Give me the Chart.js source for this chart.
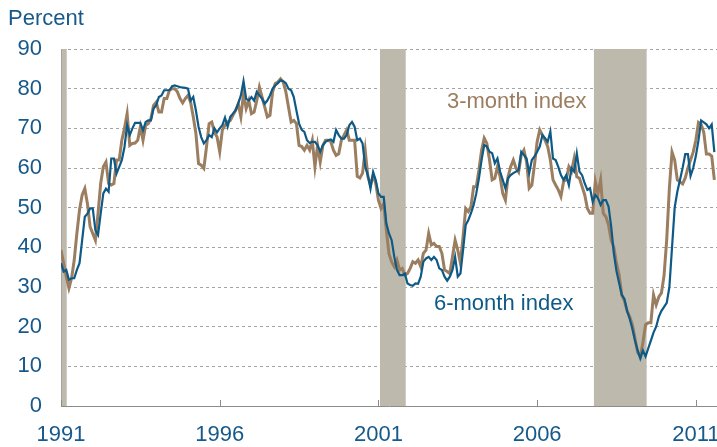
<!DOCTYPE html>
<html>
<head>
<meta charset="utf-8">
<script src="https://cdn.jsdelivr.net/npm/chart.js@4/dist/chart.umd.min.js"></script>
<style>
  html, body { margin: 0; padding: 0; background: #fff; }
  #wrap { position: relative; width: 717px; height: 447px; }
</style>
</head>
<body>
<div id="wrap"><canvas id="chart" width="717" height="447"></canvas></div>
<script>
// Monthly series, starting January 1991
var startYear = 1991;
var tickYears = [1991, 1996, 2001, 2006, 2011];

var sixMonth = [
  36, 33.9, 34.3, 31.8, 32.2, 32.2, 34.3, 36, 41.8, 47.7, 48.5, 49.8,
  49.8, 44.3, 43.1, 48.5, 53.6, 54.8, 54, 62.4, 62.4, 58.6, 60.3, 62,
  65.3, 70.8, 68.3, 70, 71.4, 71.4, 71.4, 69.5, 71.6, 72, 72, 75,
  75.8, 77.9, 78.3, 79.6, 79.6, 79.6, 80.6, 80.8, 80.6, 80.4, 80.3, 80.2,
  80, 77, 77.9, 74.5, 70.4, 67.8, 66.2, 67, 68.3, 67.8, 70, 69,
  70, 70.8, 72.7, 70.4, 72.9, 73.7, 74.5, 76.2, 78.3, 81.9, 77.5, 77,
  77.9, 77, 79.2, 78.3, 77.5, 76.2, 77, 78.3, 80, 80.8, 81.4, 82.1,
  81.9, 81.4, 80, 79.6, 77.9, 74.5, 71.2, 69.6, 69.1, 67, 66.3, 66.6,
  66.6, 65.7, 64.1, 65.7, 66.6, 67, 67.2, 66.6, 69.6, 68.3, 67.4, 67.4,
  68.3, 70.8, 71.6, 70.4, 67, 67.4, 66.2, 60.3, 58.2, 54.8, 59, 56.9,
  53.6, 52.7, 52.7, 46, 43.5, 41.8, 37.6, 34.3, 33, 33, 33.4, 30.9,
  30.5, 30.3, 30.9, 30.8, 32.6, 36.4, 37.2, 37.6, 36.8, 37.6, 36.8, 34.7,
  34.3, 32.6, 31.6, 32.6, 34.3, 37.6, 32.6, 33.4, 39.3, 45.6, 46.9, 48.6,
  50.7, 53.6, 57.4, 62, 65.8, 65.4, 64.1, 63.7, 61.2, 62.4, 59.1, 57,
  54.9, 57.4, 58.2, 58.7, 59.1, 59.5, 64.1, 63.3, 62.4, 58.7, 62, 62.9,
  64.1, 65.4, 68.3, 67.5, 66.6, 69.2, 62.4, 62, 60.3, 58.2, 57, 58.2,
  55.7, 60, 59.1, 63.7, 59.1, 58.2, 56.1, 54.5, 54.9, 51.5, 53.2, 52.4,
  50.7, 51.9, 51.9, 50.3, 45.2, 38.5, 34, 31, 28, 27, 24, 22,
  19.5, 16.5, 14, 12, 14, 12.5, 14.5, 16.5, 18.5, 20, 22.5, 24,
  25, 26, 30, 40, 50, 54, 57, 60, 63.5, 63.5, 58, 60,
  63, 67, 72, 71.5, 71, 70, 71, 64
];

var threeMonth = [
  39.3, 36, 32.6, 29.7, 32.2, 36.8, 43.5, 49.4, 53.2, 54.8, 51, 45.2,
  43.5, 41.8, 48.5, 56.1, 60.3, 61.5, 56.1, 55.7, 56.1, 62, 62, 67,
  70, 73.7, 65.7, 66.2, 66.3, 67, 70.4, 67, 70.8, 71.2, 72.5, 75.8,
  76.6, 74.1, 74.1, 77.5, 77.5, 79.6, 80, 80, 79.2, 77.5, 76.4, 77.5,
  78.3, 76.6, 72.9, 68.7, 61.1, 60.7, 59.9, 65.3, 71.2, 71.6, 69, 67.8,
  64.1, 69.6, 70.8, 71.6, 72, 73.3, 74.5, 76.2, 72.9, 78.7, 75, 77,
  73.7, 74.1, 77, 80.4, 77.9, 75.4, 72.9, 73.3, 79.2, 81.3, 81.7, 82.5,
  81.7, 79.2, 75.4, 71.6, 72, 71.2, 65.7, 65.4, 64.5, 65.7, 64.5, 67,
  60.3, 65.7, 61.5, 65.7, 67, 67, 66.6, 64.5, 63.2, 63.6, 67, 68.3,
  69.6, 67, 67, 67, 57.9, 57.5, 58.7, 64.5, 57.9, 55.7, 58.2, 56.1,
  51.9, 49.8, 51, 44.3, 38.4, 36.3, 35.1, 36.8, 34.3, 34.7, 33, 33.4,
  34.7, 36.4, 36, 36.8, 35.1, 38.5, 39.3, 43.5, 40.6, 41, 40.2, 40.2,
  38.5, 34.3, 33.9, 33.4, 37.6, 41.8, 39.3, 36, 42.7, 49.8, 49, 50.3,
  55.3, 55.3, 59.5, 64.5, 67.5, 66.2, 62, 57, 57.4, 60.3, 57.8, 53.6,
  51.9, 57.8, 60.3, 62, 60, 59, 63.3, 64.5, 61.6, 54.9, 55.7, 60.8,
  66.6, 69.6, 68.3, 67, 65.4, 62, 57, 55.7, 54.5, 52.8, 56.6, 57,
  60.3, 59.1, 62.4, 57.8, 57.4, 55.3, 53.2, 49.8, 48.6, 48.6, 56.6, 53.6,
  57, 48.6, 47.7, 45.6, 41.8, 40, 36, 33, 28, 26.5, 24, 22.5,
  20.5, 17, 13.5, 12.5, 16, 20.5, 21, 21, 28, 25.5, 27.5, 28.5,
  33, 42, 55, 64, 62, 57, 56.5, 56, 57.5, 60, 62, 64,
  67, 71.5, 71, 69, 63.5, 63.5, 63, 57
];

// Recession periods, in decimal years
var recessions = [
  [1991.0, 1991.18],
  [2001.05, 2001.86],
  [2007.79, 2009.45]
];

// Series labels placed in data coordinates (year, percent at text baseline)
var seriesLabels = [
  { text: '3-month index', x: 2003.16, y: 75.1, color: '#9b7d5f' },
  { text: '6-month index', x: 2002.75, y: 24.2, color: '#0e5a87' }
];

function toPoints(arr) {
  return arr.map(function (v, i) { return { x: startYear + i / 12, y: v }; });
}

var font = '"Liberation Sans", Arial, sans-serif';
var textBlue = '#17598a';

var extras = {
  id: 'extras',
  beforeDatasetsDraw: function (chart) {
    var ctx = chart.ctx, a = chart.chartArea, xs = chart.scales.x;
    ctx.save();
    ctx.fillStyle = '#bdb9ac';
    recessions.forEach(function (r) {
      var x0 = Math.max(xs.getPixelForValue(r[0]), a.left + 0.5);
      var x1 = xs.getPixelForValue(r[1]);
      ctx.fillRect(x0, a.top, x1 - x0, a.bottom - a.top);
    });
    // small inward tick marks on the x axis
    ctx.strokeStyle = '#8c8c8c';
    ctx.lineWidth = 1;
    tickYears.forEach(function (y) {
      var px = Math.round(xs.getPixelForValue(y)) + 0.5;
      ctx.beginPath();
      ctx.moveTo(px, a.bottom);
      ctx.lineTo(px, a.bottom - 6);
      ctx.stroke();
    });
    ctx.restore();
  },
  afterDraw: function (chart) {
    var ctx = chart.ctx, xs = chart.scales.x, ys = chart.scales.y;
    ctx.save();
    ctx.font = '22px ' + font;
    ctx.textBaseline = 'alphabetic';
    ctx.textAlign = 'left';
    seriesLabels.forEach(function (l) {
      ctx.fillStyle = l.color;
      ctx.fillText(l.text, xs.getPixelForValue(l.x), ys.getPixelForValue(l.y));
    });
    ctx.fillStyle = textBlue;
    ctx.fillText('Percent', 8, 25);
    ctx.restore();
  }
};

var ctx = document.getElementById('chart').getContext('2d');
var chart = new Chart(ctx, {
  type: 'line',
  data: {
    datasets: [
      {
        label: '6-month index',
        data: toPoints(sixMonth),
        borderColor: '#0e5a87',
        borderWidth: 2.2,
        pointRadius: 0,
        tension: 0,
        fill: false,
        order: 0
      },
      {
        label: '3-month index',
        data: toPoints(threeMonth),
        borderColor: '#9b7d5f',
        borderWidth: 3,
        pointRadius: 0,
        tension: 0,
        fill: false,
        order: 1
      }
    ]
  },
  options: {
    responsive: false,
    animation: false,
    events: [],
    layout: { padding: { top: 49, right: 0, left: 0, bottom: 0 } },
    plugins: { legend: { display: false }, tooltip: { enabled: false } },
    scales: {
      x: {
        type: 'linear',
        min: startYear,
        max: startYear + 248 / 12,
        afterBuildTicks: function (s) {
          s.ticks = tickYears.map(function (y) { return { value: y }; });
        },
        afterFit: function (s) {
          s.height = 41;
          s.paddingLeft = 0;
          s.paddingRight = 0;
        },
        grid: { display: false, drawTicks: false },
        border: { display: true, color: '#8c8c8c', width: 1 },
        ticks: {
          padding: 16,
          maxRotation: 0,
          autoSkip: false,
          color: textBlue,
          font: { size: 22, family: font },
          callback: function (v) { return String(v); }
        }
      },
      y: {
        min: 0,
        max: 90,
        afterFit: function (s) { s.width = 61; },
        grid: {
          color: '#a3a3a3',
          lineWidth: 1,
          drawTicks: false
        },
        border: { display: true, color: '#8c8c8c', width: 1, dash: [3, 3] },
        ticks: {
          stepSize: 10,
          padding: 19,
          color: textBlue,
          font: { size: 22, family: font }
        }
      }
    }
  },
  plugins: [extras]
});
</script>
</body>
</html>
